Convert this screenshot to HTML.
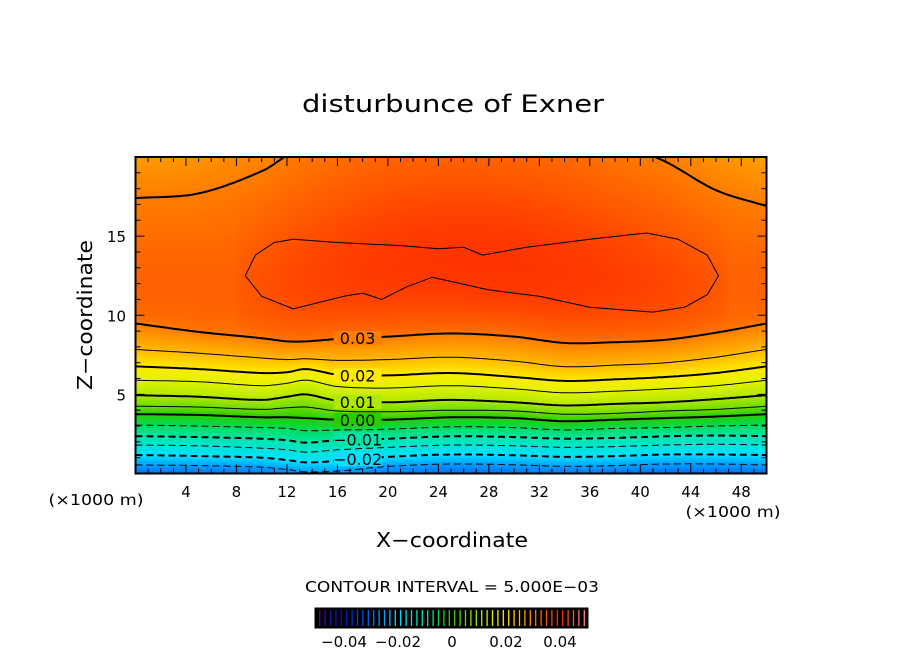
<!DOCTYPE html>
<html><head><meta charset="utf-8"><style>
html,body{margin:0;padding:0;background:#fff;width:904px;height:654px;overflow:hidden}
#wrap{position:relative;width:904px;height:654px}
canvas{position:absolute;left:0;top:0}
svg{position:absolute;left:0;top:0}
text{font-family:"DejaVu Sans","Liberation Sans",sans-serif;fill:#000}
</style></head><body>
<div id="wrap">
<canvas id="cv" width="904" height="654"></canvas>
<svg id="sv" width="904" height="654"></svg>
</div>
<script>
const xs=[0,5,10,12,13.5,16,20,25,30,34,38,42,46,50];
const levels=[-0.025,-0.02,-0.015,-0.01,-0.005,0.0,0.005,0.01,0.015,0.02,0.025,0.03];
const levelHeights=[
[0.54,0.5,0.4,0.25,0.1,0.15,0.45,0.6,0.55,0.45,0.5,0.6,0.6,0.54],
[1.17,1.1,1.0,0.85,0.7,0.8,1.05,1.2,1.15,1.05,1.1,1.2,1.2,1.17],
[1.80,1.75,1.6,1.5,1.35,1.5,1.65,1.8,1.75,1.65,1.7,1.8,1.85,1.80],
[2.36,2.3,2.2,2.1,1.95,2.1,2.2,2.35,2.3,2.2,2.25,2.35,2.4,2.36],
[3.06,3.0,2.9,2.85,2.7,2.75,2.8,2.95,2.9,2.75,2.85,2.9,3.0,3.06],
[3.75,3.7,3.55,3.55,3.5,3.4,3.4,3.55,3.5,3.3,3.4,3.5,3.6,3.75],
[4.25,4.2,4.05,4.15,4.2,3.95,3.9,4.0,3.95,3.75,3.8,3.95,4.05,4.25],
[4.95,4.85,4.65,4.85,5.0,4.6,4.5,4.65,4.5,4.3,4.4,4.5,4.7,4.95],
[5.89,5.8,5.55,5.7,5.9,5.5,5.4,5.55,5.35,5.1,5.2,5.35,5.55,5.89],
[6.77,6.6,6.35,6.4,6.6,6.25,6.2,6.35,6.1,5.85,5.95,6.1,6.35,6.77],
[7.84,7.6,7.3,7.2,7.25,7.15,7.2,7.35,7.1,6.75,6.85,7.0,7.35,7.84],
[9.48,8.95,8.55,8.35,8.35,8.50,8.65,8.85,8.65,8.25,8.30,8.45,8.90,9.48]];
const upper03=[17.4,17.7,19.1,20.1,20.8,21.8,23,23.2,23,22.3,21,19.7,17.9,16.9];
const closed035=[[8.7,12.5],[9.5,13.8],[11,14.6],[12.5,14.8],[16,14.6],[21,14.4],[24,14.2],[26,14.3],[27.5,13.8],[31,14.3],[36,14.8],[40.5,15.2],[43,14.8],[45.3,13.8],[46.2,12.5],[45.3,11.3],[43.5,10.5],[41,10.2],[36,10.5],[32,11.2],[28,11.6],[23.5,12.4],[21.5,11.8],[19.5,11.0],[18,11.4],[16.5,11.2],[15,10.9],[12.5,10.4],[10,11.2]];
const xTicks=[4,8,12,16,20,24,28,32,36,40,44,48];
const yTicks=[5,10,15];
const cbTicks=[-0.04,-0.02,0,0.02,0.04];
const cbLabels=["\u22120.04","\u22120.02","0","0.02","0.04"];
const lineLabels=[["0.03",0.03],["0.02",0.02],["0.01",0.01],["0.00",0.0],["\u22120.01",-0.01],["\u22120.02",-0.02]];

const X0=135.5,X1=766.5,Y0=473.5,Y1=157;
const sx=x=>X0+(x/50)*(X1-X0);
const sy=z=>Y0-(z/20)*(Y0-Y1);
const ix=px=>(px-X0)/(X1-X0)*50;
const iz=py=>(Y0-py)/(Y0-Y1)*20;
function interp(arr,x){const n=xs.length;
  for(let i=0;i<n-1;i++){if(x<=xs[i+1]){const t=(x-xs[i])/(xs[i+1]-xs[i]);
    const p0=arr[Math.max(i-1,0)],p1=arr[i],p2=arr[i+1],p3=arr[Math.min(i+2,n-1)];
    const h=xs[i+1]-xs[i];
    const m1=(p2-p0)/((xs[i+1]-xs[Math.max(i-1,0)])||1)*h, m2=(p3-p1)/((xs[Math.min(i+2,n-1)]-xs[i])||1)*h;
    const t2=t*t,t3=t2*t;
    return (2*t3-3*t2+1)*p1+(t3-2*t2+t)*m1+(-2*t3+3*t2)*p2+(t3-t2)*m2;}}
  return arr[n-1];}
const stops=[[-0.05,[90,0,160]],[-0.04,[0,20,210]],[-0.03,[0,110,255]],[-0.025,[0,160,255]],[-0.02,[0,225,255]],[-0.01,[0,230,170]],[-0.005,[0,220,90]],[0,[40,205,0]],[0.005,[110,220,0]],[0.01,[175,232,0]],[0.015,[225,242,0]],[0.02,[255,235,0]],[0.025,[255,185,0]],[0.03,[255,125,0]],[0.035,[255,85,0]],[0.04,[255,30,0]],[0.05,[255,140,140]]];
function cmap(v){if(v<=stops[0][0])return stops[0][1];for(let i=0;i<stops.length-1;i++){if(v<=stops[i+1][0]){const t=(v-stops[i][0])/(stops[i+1][0]-stops[i][0]);return stops[i][1].map((c,k)=>Math.round(c+t*(stops[i+1][1][k]-c)));}}return stops[stops.length-1][1];}
function field(x,z){
  const hs=levelHeights.map(a=>interp(a,x));
  if(z<hs[0])return levels[0]-0.005*(hs[0]-z)/0.6;
  for(let i=0;i<hs.length-1;i++){if(z<=hs[i+1]){const t=(z-hs[i])/(hs[i+1]-hs[i]);return levels[i]+t*0.005;}}
  const zl=hs[hs.length-1],zu=interp(upper03,x);
  let t=(z-zl)/(zu-zl);
  if(t>=1)return 0.03-0.0025*(t-1)*3;
  let core=(x>8&&x<47)?Math.sin(Math.PI*(x-8)/39):0;
  return 0.03+(0.0035+0.0045*Math.sqrt(core))*Math.sin(Math.PI*Math.pow(t,0.6));
}
const ctx=document.getElementById('cv').getContext('2d');
const img=ctx.createImageData(904,654);
for(let py=157;py<474;py++){for(let px=136;px<767;px++){const c=cmap(field(ix(px+0.5),iz(py+0.5)));const o=(py*904+px)*4;img.data[o]=c[0];img.data[o+1]=c[1];img.data[o+2]=c[2];img.data[o+3]=255;}}
ctx.putImageData(img,0,0);

const NS="http://www.w3.org/2000/svg";const sv=document.getElementById('sv');
function mk(tag,at,parent){const e=document.createElementNS(NS,tag);for(const k in at)e.setAttribute(k,at[k]);(parent||sv).appendChild(e);return e;}
const clip=mk('clipPath',{id:'pc'});mk('rect',{x:X0,y:Y1,width:X1-X0,height:Y0-Y1},clip);
const g=mk('g',{'clip-path':'url(#pc)'});
levels.forEach((lv,i)=>{
  const fine=[];for(let x=0;x<=50;x+=0.25)fine.push(sx(x).toFixed(1)+','+sy(interp(levelHeights[i],x)).toFixed(1));
  const thick=Math.abs(Math.round(lv*1000)%10)===0;
  const p=mk('polyline',{points:fine.join(' '),fill:'none',stroke:'#000','stroke-width':thick?2:1,'stroke-dasharray':lv<0?'7,4':'none'},g);
  
  
});
{const pts=[];for(let x=0;x<=50;x+=0.25)pts.push(sx(x).toFixed(1)+','+sy(interp(upper03,x)).toFixed(1));
const p=mk('polyline',{points:pts.join(' '),fill:'none',stroke:'#000','stroke-width':2},g);

}
{const p=mk('polygon',{points:closed035.map(q=>sx(q[0]).toFixed(1)+','+sy(q[1]).toFixed(1)).join(' '),fill:'none',stroke:'#000','stroke-width':1,'stroke-linejoin':'round'},g);

}
lineLabels.forEach(l=>{
  const i=levels.findIndex(v=>Math.abs(v-l[1])<1e-9);const xl=17.6;const z=interp(levelHeights[i],xl);
  const c=cmap(l[1]);
  mk('rect',{x:sx(xl)-24,y:sy(z)-7,width:48,height:14,fill:'rgb('+c.join(',')+')'},g);
  const t=mk('text',{x:sx(xl),y:sy(z)+6,'font-size':16,'text-anchor':'middle'},g);t.textContent=l[0];
  
  
});
const fr=mk('rect',{x:X0,y:Y1,width:X1-X0,height:Y0-Y1,fill:'none',stroke:'#000','stroke-width':2});

for(let x=1;x<50;x++){const maj=x%4===0;const L=maj?9:5;
  mk('line',{x1:sx(x),x2:sx(x),y1:Y0,y2:Y0-L,stroke:'#000','stroke-width':1});
  mk('line',{x1:sx(x),x2:sx(x),y1:Y1,y2:Y1+L,stroke:'#000','stroke-width':1});}
for(let z=1;z<20;z++){const maj=z%5===0;const L=maj?9:5;
  mk('line',{x1:X0,x2:X0+L,y1:sy(z),y2:sy(z),stroke:'#000','stroke-width':1});
  mk('line',{x1:X1,x2:X1-L,y1:sy(z),y2:sy(z),stroke:'#000','stroke-width':1});}
xTicks.forEach(v=>{const t=mk('text',{x:sx(v),y:497,'font-size':15,'text-anchor':'middle'});t.textContent=v;
  });
yTicks.forEach(v=>{const t=mk('text',{x:126,y:sy(v)+6,'font-size':15,'text-anchor':'end'});t.textContent=v;
  });
function txt(s,x,y,fs,anchor,name,len,rot){const t=mk('text',{x:x,y:y,'font-size':fs,'text-anchor':anchor});t.textContent=s;if(len){t.setAttribute('textLength',len);t.setAttribute('lengthAdjust','spacingAndGlyphs');}if(rot)t.setAttribute('transform','rotate(-90 '+x+' '+y+')');return t;}
txt('disturbunce of Exner',453,112,24,'middle','chart-title',302);
txt('(\u00d71000 m)',96,505,15,'middle','x-unit-left',95);
txt('(\u00d71000 m)',733,517,15,'middle','x-unit-right',95);
txt('X\u2212coordinate',452,547,20,'middle','x-axis-title',152);
txt('Z\u2212coordinate',92,315,20,'middle','y-axis-title',150,true);
txt('CONTOUR INTERVAL = 5.000E\u221203',452,592,15,'middle','contour-interval-note',294);
const cb=mk('rect',{x:315,y:608,width:273,height:20,fill:'#000',stroke:'#000','stroke-width':1});

const cbx=v=>452+v*2700;
for(let v=-0.049;v<=0.0495;v+=0.002){const c=cmap(v);mk('line',{x1:cbx(v),x2:cbx(v),y1:610,y2:626,stroke:'rgb('+c.join(',')+')','stroke-width':1.3});}
cbTicks.forEach((v,i)=>{txt(cbLabels[i],cbx(v),647,15,'middle','colorbar-tick-label');});
</script>
</body></html>
